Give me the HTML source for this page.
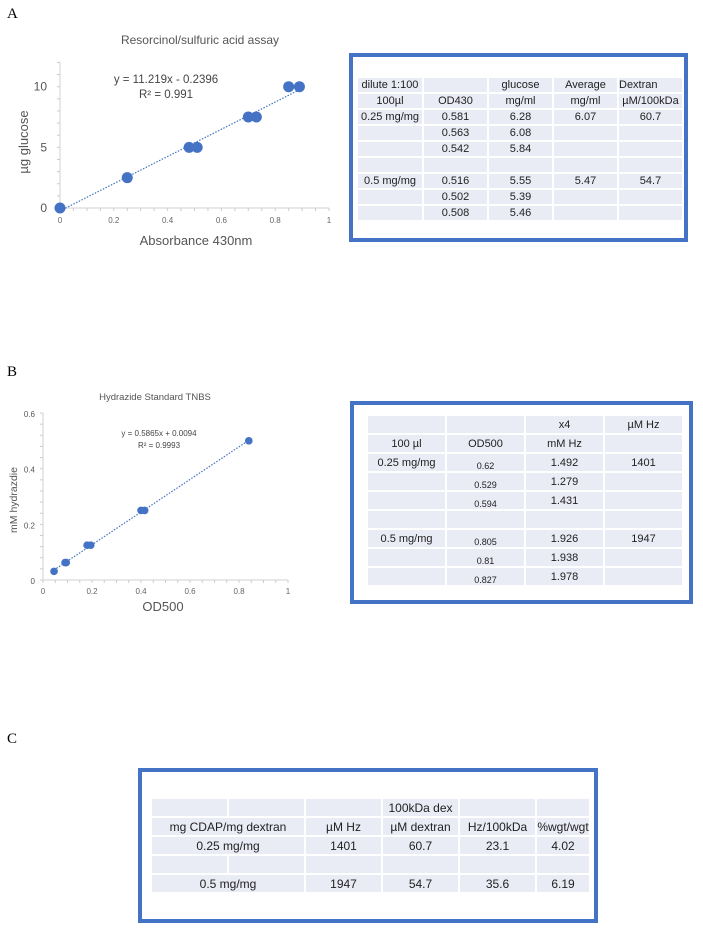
<!DOCTYPE html>
<html><head><meta charset="utf-8">
<style>
body{margin:0;width:703px;height:933px;background:#fff;position:relative;overflow:hidden;font-family:"Liberation Sans",sans-serif;color:#222}
.lbl{position:absolute;font-family:"Liberation Serif",serif;font-size:15px;color:#000}
.box{position:absolute;border:4px solid #4472C4;box-sizing:border-box;background:#fff}
table{position:absolute;border-collapse:separate;border-spacing:2px;font-size:11px}
td{background:#e9ebf5;text-align:center;padding:0;white-space:nowrap;overflow:hidden}
svg{position:absolute;left:0;top:0}
</style></head><body>
<div class="lbl" style="left:7px;top:6px">A</div>
<div class="lbl" style="left:7px;top:364px">B</div>
<div class="lbl" style="left:7px;top:731px">C</div>

<svg id="chartA" width="350" height="260"></svg>
<svg id="chartB" width="350" height="260" style="top:360px"></svg>

<div class="box" style="left:349px;top:53px;width:339px;height:189px"></div>
<table style="left:356px;top:76px">
<colgroup><col style="width:64px"><col style="width:63px"><col style="width:63px"><col style="width:63px"><col style="width:63px"></colgroup>
<tr style="height:14px"><td>dilute 1:100</td><td></td><td>glucose</td><td>Average</td><td style="text-align:left">Dextran</td></tr>
<tr style="height:14px"><td>100µl</td><td>OD430</td><td>mg/ml</td><td>mg/ml</td><td>µM/100kDa</td></tr>
<tr style="height:14px"><td>0.25 mg/mg</td><td>0.581</td><td>6.28</td><td>6.07</td><td>60.7</td></tr>
<tr style="height:14px"><td></td><td>0.563</td><td>6.08</td><td></td><td></td></tr>
<tr style="height:14px"><td></td><td>0.542</td><td>5.84</td><td></td><td></td></tr>
<tr style="height:14px"><td></td><td></td><td></td><td></td><td></td></tr>
<tr style="height:14px"><td>0.5 mg/mg</td><td>0.516</td><td>5.55</td><td>5.47</td><td>54.7</td></tr>
<tr style="height:14px"><td></td><td>0.502</td><td>5.39</td><td></td><td></td></tr>
<tr style="height:14px"><td></td><td>0.508</td><td>5.46</td><td></td><td></td></tr>
</table>

<div class="box" style="left:350px;top:401px;width:343px;height:203px"></div>
<table style="left:366px;top:414px">
<colgroup><col style="width:77px"><col style="width:77px"><col style="width:77px"><col style="width:77px"></colgroup>
<tr style="height:17px"><td></td><td></td><td>x4</td><td>µM Hz</td></tr>
<tr style="height:17px"><td>100 µl</td><td>OD500</td><td>mM Hz</td><td></td></tr>
<tr style="height:17px"><td>0.25 mg/mg</td><td style="font-size:9px;vertical-align:bottom">0.62</td><td>1.492</td><td>1401</td></tr>
<tr style="height:17px"><td></td><td style="font-size:9px;vertical-align:bottom">0.529</td><td>1.279</td><td></td></tr>
<tr style="height:17px"><td></td><td style="font-size:9px;vertical-align:bottom">0.594</td><td>1.431</td><td></td></tr>
<tr style="height:17px"><td></td><td></td><td></td><td></td></tr>
<tr style="height:17px"><td>0.5 mg/mg</td><td style="font-size:9px;vertical-align:bottom">0.805</td><td>1.926</td><td>1947</td></tr>
<tr style="height:17px"><td></td><td style="font-size:9px;vertical-align:bottom">0.81</td><td>1.938</td><td></td></tr>
<tr style="height:17px"><td></td><td style="font-size:9px;vertical-align:bottom">0.827</td><td>1.978</td><td></td></tr>
</table>

<div class="box" style="left:138px;top:768px;width:460px;height:155px"></div>
<table style="left:150px;top:797px;font-size:12px">
<colgroup><col style="width:75px"><col style="width:75px"><col style="width:75px"><col style="width:75px"><col style="width:75px"><col style="width:52px"></colgroup>
<tr style="height:17px"><td></td><td></td><td></td><td>100kDa dex</td><td></td><td></td></tr>
<tr style="height:17px"><td colspan="2">mg CDAP/mg dextran</td><td>µM Hz</td><td>µM dextran</td><td>Hz/100kDa</td><td>%wgt/wgt</td></tr>
<tr style="height:17px"><td colspan="2">0.25 mg/mg</td><td>1401</td><td>60.7</td><td>23.1</td><td>4.02</td></tr>
<tr style="height:17px"><td></td><td></td><td></td><td></td><td></td><td></td></tr>
<tr style="height:17px"><td colspan="2">0.5 mg/mg</td><td>1947</td><td>54.7</td><td>35.6</td><td>6.19</td></tr>
</table>

<script>
const aX=[0,0.25,0.48,0.51,0.70,0.73,0.85,0.89];
const aY=[0,2.5,5,5,7.5,7.5,10,10];
const aXTicks=[0,0.2,0.4,0.6,0.8,1];
const aXTickLabels=["0","0.2","0.4","0.6","0.8","1"];
const aYTicks=[0,5,10];
const aFit=[11.219,-0.2396];
const bX=[0.045,0.09,0.095,0.18,0.195,0.40,0.415,0.84];
const bY=[0.031,0.0625,0.0625,0.125,0.125,0.25,0.25,0.5];
const bXTicks=[0,0.2,0.4,0.6,0.8,1];
const bXTickLabels=["0","0.2","0.4","0.6","0.8","1"];
const bYTicks=[0,0.2,0.4,0.6];
const bYTickLabels=["0","0.2","0.4","0.6"];
const bFit=[0.5865,0.0094];
const NS="http://www.w3.org/2000/svg";
function mk(svg,tag,attrs,txt){const e=document.createElementNS(NS,tag);for(const k in attrs)e.setAttribute(k,attrs[k]);if(txt!==undefined)e.textContent=txt;svg.appendChild(e);return e;}
function chart(id,o){
 const svg=document.getElementById(id);
 const sx=v=>o.x0+(v-o.xmin)/(o.xmax-o.xmin)*(o.x1-o.x0);
 const sy=v=>o.y0-(v-o.ymin)/(o.ymax-o.ymin)*(o.y0-o.y1);
 const ax=mk(svg,'line',{x1:o.x0,y1:o.y0,x2:o.x1,y2:o.y0,stroke:'#d0d0d0','stroke-width':1});
 
 const ay=mk(svg,'line',{x1:o.x0,y1:o.y0,x2:o.x0,y2:o.ytop,stroke:'#d0d0d0','stroke-width':1});
 
 for(let v=o.xmin;v<=o.xmax+1e-9;v+=o.xminor){mk(svg,'line',{x1:sx(v),y1:o.y0,x2:sx(v),y2:o.y0+3,stroke:'#ccc'});}
 for(let y=o.y0;y>=o.ytop-0.1;y-=o.yminorPx){mk(svg,'line',{x1:o.x0-3,y1:y,x2:o.x0,y2:y,stroke:'#ccc'});}
 o.xt.forEach((v,i)=>{const t=mk(svg,'text',{x:sx(v),y:o.y0+o.xtOff,'font-size':o.tfs,fill:'#666','text-anchor':'middle'},o.xtl[i]);});
 o.yt.forEach((v,i)=>{const t=mk(svg,'text',{x:o.x0-o.ytOff,y:sy(v)+4,'font-size':o.ytfs,fill:'#555','text-anchor':'end'},o.ytl[i]);});
 const fx0=o.fitFrom,fx1=o.fitTo;
 const fl=mk(svg,'line',{x1:sx(fx0),y1:sy(o.fit[0]*fx0+o.fit[1]),x2:sx(fx1),y2:sy(o.fit[0]*fx1+o.fit[1]),stroke:'#4472C4','stroke-width':1.2,'stroke-dasharray':'1.5,1.5'});
 
 o.xs.forEach((v,i)=>{const c=mk(svg,'circle',{cx:sx(v),cy:sy(o.ys[i]),r:o.r,fill:'#4472C4'});});
 const tt=mk(svg,'text',{x:o.title[1],y:o.title[2],'font-size':o.title[3],fill:'#555','text-anchor':'middle'},o.title[0]);
 
 const e1=mk(svg,'text',{x:o.eq[0],y:o.eq[1],'font-size':o.eq[3],fill:'#444','text-anchor':'middle'},o.eqText);
 
 const e2=mk(svg,'text',{x:o.eq[0],y:o.eq[2],'font-size':o.eq[3],fill:'#444','text-anchor':'middle'},o.r2Text);
 
 const xl=mk(svg,'text',{x:o.xl[1],y:o.xl[2],'font-size':o.xl[3],fill:'#555','text-anchor':'middle'},o.xl[0]);
 
 const yl=mk(svg,'text',{x:0,y:0,'font-size':o.yl[3],fill:'#555','text-anchor':'middle',transform:`translate(${o.yl[1]},${o.yl[2]}) rotate(-90)`},o.yl[0]);
 
}
chart('chartA',{x0:60,x1:329,y0:208,y1:86.7,ytop:62,xmin:0,xmax:1,ymin:0,ymax:10,xminor:0.05,yminorPx:12.13,
 xt:aXTicks,xtl:aXTickLabels,yt:aYTicks,ytl:aYTicks.map(String),xtOff:15,ytOff:13,tfs:8,ytfs:12,
 fit:aFit,fitFrom:0.02,fitTo:0.895,xs:aX,ys:aY,r:5.5,
 title:["Resorcinol/sulfuric acid assay",200,44,12],eq:[166,83,98,11.5],
 eqText:"y = 11.219x - 0.2396",r2Text:"R² = 0.991",
 xl:["Absorbance 430nm",196,245,13],yl:["µg glucose",28,142,13]});
chart('chartB',{x0:43,x1:288,y0:220,y1:53,ytop:53,xmin:0,xmax:1,ymin:0,ymax:0.6,xminor:0.05,yminorPx:11.13,
 xt:bXTicks,xtl:bXTickLabels,yt:bYTicks,ytl:bYTickLabels,xtOff:14,ytOff:8,tfs:8,ytfs:8,
 fit:bFit,fitFrom:0.045,fitTo:0.84,xs:bX,ys:bY,r:3.8,
 title:["Hydrazide Standard TNBS",155,40,9.5],eq:[159,76,88,8],
 eqText:"y = 0.5865x + 0.0094",r2Text:"R² = 0.9993",
 xl:["OD500",163,251,13],yl:["mM hydrazdie",17,140,10.5]});
</script>
</body></html>
